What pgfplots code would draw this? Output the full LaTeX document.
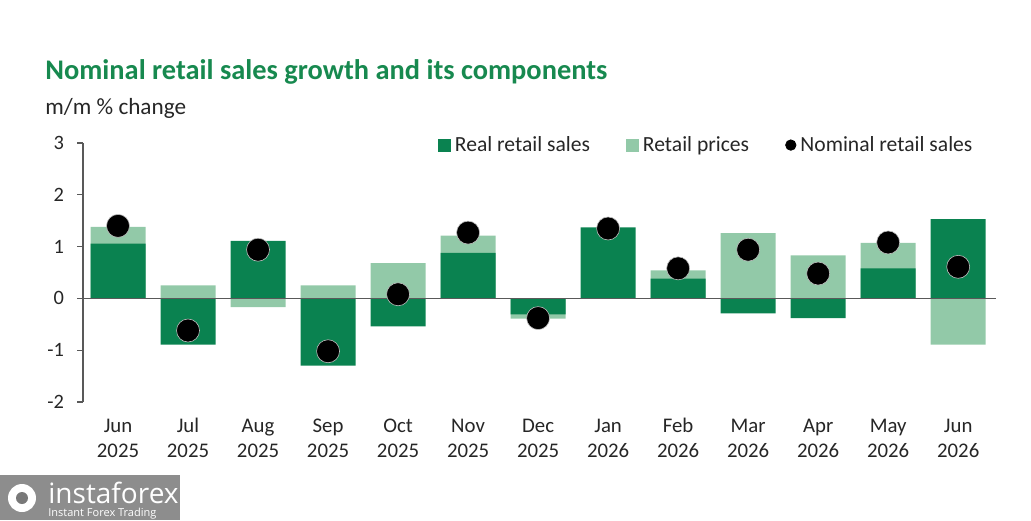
\documentclass[border=0pt]{standalone}
\usepackage{pgfplots}
\pgfplotsset{compat=1.18}
\usepackage{pgfplotstable}
\usepackage{fontspec}
\setmainfont{Carlito}
\newfontfamily\wmfont{Open Sans}
\definecolor{darkg}{HTML}{0A8250}
\definecolor{lightg}{HTML}{92C9A8}
\definecolor{titleg}{HTML}{17894F}
\definecolor{axgray}{HTML}{595959}
\definecolor{txt}{HTML}{262626}
\newcommand{\tl}[2]{\strut #1\\\strut #2}
\pgfplotstableread{
idx real light nominal
0 1.06 1.38 1.40
1 -0.89 0.25 -0.62
2 1.11 -0.17 0.94
3 -1.30 0.25 -1.02
4 -0.54 0.68 0.08
5 0.88 1.21 1.27
6 -0.31 -0.39 -0.38
7 1.37 0.00 1.35
8 0.38 0.54 0.58
9 -0.29 1.26 0.94
10 -0.38 0.83 0.48
11 0.58 1.07 1.08
12 1.53 -0.89 0.61
}\datatable
\begin{document}
\begin{tikzpicture}
\useasboundingbox (0,0) rectangle (515.5pt,260pt);
% title and subtitle
\node[anchor=base west, inner sep=0, text=titleg, font=\fontsize{14.2}{16}\selectfont\bfseries] at (22.5pt,220pt) {Nominal retail sales growth and its components};
\node[anchor=base west, inner sep=0, text=txt, font=\fontsize{11.6}{13}\selectfont] at (22.5pt,202.5pt) {m/m \% change};
\begin{axis}[
  at={(41.5pt,59pt)}, anchor=south west,
  scale only axis, width=456.5pt, height=129.5pt,
  xmin=-0.5, xmax=12.54, ymin=-2, ymax=3,
  axis y line*=left, axis x line*=bottom,
  x axis line style={draw=none},
  y axis line style={draw=axgray, line width=0.6pt, -},
  ytick={-2,-1,0,1,2,3},
  yticklabels={-2,-1,0,1,2,3},
  xtick={0,...,12},
  xticklabels={{\tl{Jun}{2025}},{\tl{Jul}{2025}},{\tl{Aug}{2025}},{\tl{Sep}{2025}},{\tl{Oct}{2025}},{\tl{Nov}{2025}},{\tl{Dec}{2025}},{\tl{Jan}{2026}},{\tl{Feb}{2026}},{\tl{Mar}{2026}},{\tl{Apr}{2026}},{\tl{May}{2026}},{\tl{Jun}{2026}}},
  xtick style={draw=none},
  ytick style={draw=axgray, line width=0.6pt},
  tick align=outside,
  major tick length=3pt,
  yticklabel style={font=\fontsize{10.2}{12}\selectfont, text=txt, xshift=-3pt},
  xticklabel style={align=center, font=\fontsize{10.4}{12.5}\selectfont, text=txt, yshift=0pt},
  legend columns=3,
  legend style={at={(0.979,0.992)}, anchor=east, draw=none, fill=none, inner sep=0pt,
    font=\fontsize{10.8}{12}\selectfont, text=txt,
    /tikz/every even column/.style={column sep=16pt}},
  clip=false,
]
\addlegendimage{legend image code/.code={\fill[darkg] (0pt,-3pt) rectangle (6pt,3pt);}}
\addlegendentry{Real retail sales}
\addlegendimage{legend image code/.code={\fill[lightg] (0pt,-3pt) rectangle (6pt,3pt);}}
\addlegendentry{Retail prices}
\addlegendimage{legend image code/.code={\fill[black] (3pt,0pt) circle (2.6pt);}}
\addlegendentry{Nominal retail sales}
\addplot[ybar, bar width=27.5pt, bar shift=0pt, fill=lightg, draw=none, forget plot] table[x=idx, y=light] {\datatable};
\addplot[ybar, bar width=27.5pt, bar shift=0pt, fill=darkg, draw=none, forget plot] table[x=idx, y=real] {\datatable};
\draw[axgray, line width=0.6pt] (axis cs:-0.5,0) -- (axis cs:12.54,0);
\addplot[only marks, mark=*, mark size=5.75pt, mark options={fill=black, draw=black!25, line width=0.3pt}, forget plot] table[x=idx, y=nominal] {\datatable};
\end{axis}
% watermark
\fill[gray!95!black, opacity=0.85] (0,0) rectangle (90pt,22.5pt);
\fill[white] (11pt,11pt) circle (7pt);
\fill[gray!95!black] (11pt,11pt) circle (3pt);
\node[anchor=base west, inner sep=0, text=white, font=\wmfont\fontsize{14}{15}\selectfont] at (24pt,8.5pt) {instaforex};
\node[anchor=base west, inner sep=0, text=white, font=\wmfont\fontsize{5.5}{6}\selectfont] at (24pt,2pt) {Instant Forex Trading};
\end{tikzpicture}
\end{document}
